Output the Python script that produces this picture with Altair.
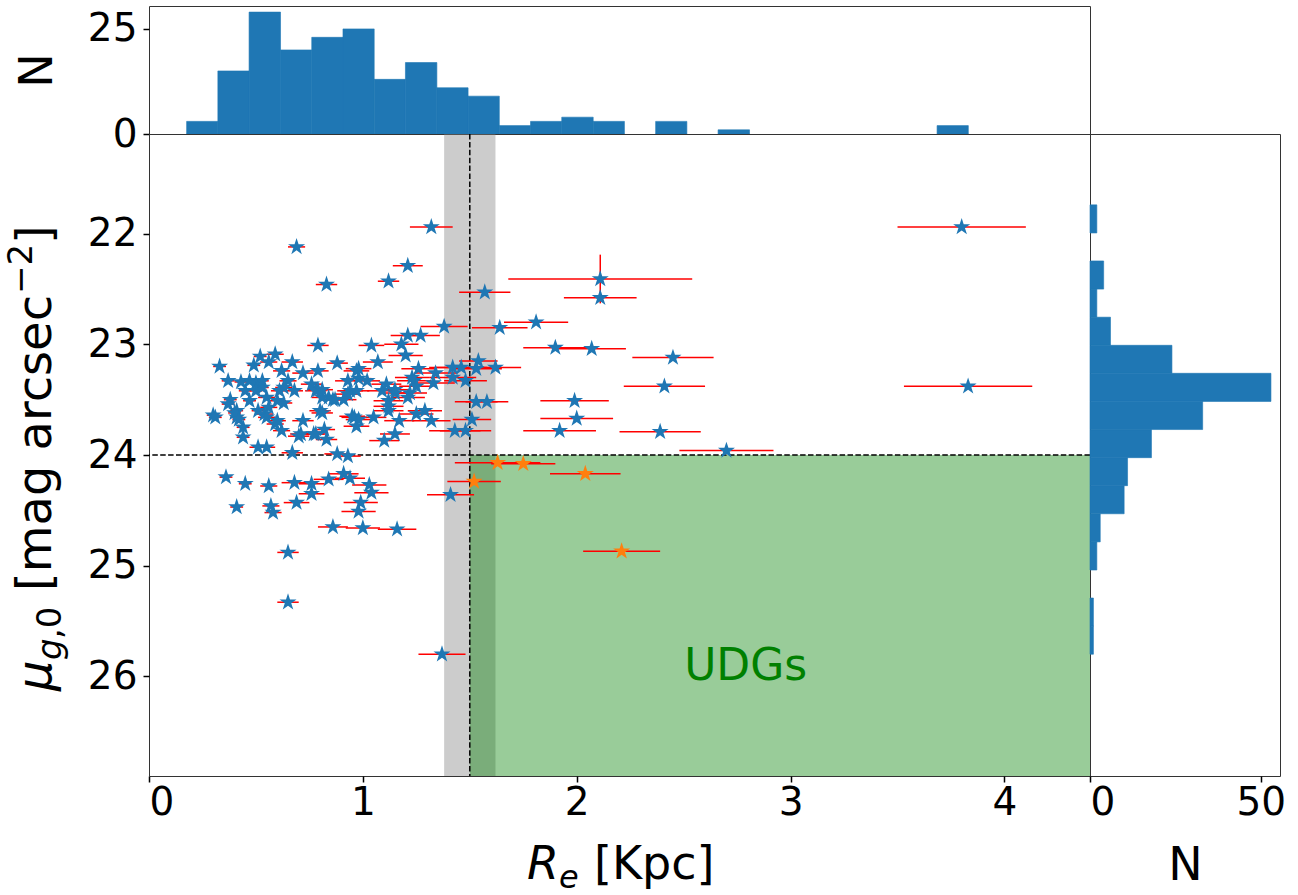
import altair as alt
import pandas as pd

# ---------------- data ----------------
# isolated points (upper / right part)
re_iso = [1.32, 0.69, 1.21, 1.12, 0.83, 2.11, 2.11, 1.57, 1.81, 1.64, 1.38, 1.90, 2.07, 2.45, 2.41, 1.99, 2.00, 1.92, 2.39, 2.70, 3.80, 3.83]
mu_iso = [21.94, 22.12, 22.29, 22.43, 22.46, 22.41, 22.58, 22.53, 22.80, 22.85, 22.84, 23.03, 23.04, 23.12, 23.38, 23.51, 23.67, 23.78, 23.79, 23.96, 21.94, 23.38]
er_iso = [0.10, 0.04, 0.07, 0.05, 0.05, 0.43, 0.17, 0.12, 0.15, 0.13, 0.11, 0.15, 0.16, 0.19, 0.19, 0.16, 0.17, 0.17, 0.19, 0.22, 0.30, 0.30]

# points near the grey band
re_band = [1.21, 1.27, 1.18, 1.20, 1.54, 1.62, 1.53, 1.46, 1.42, 1.26, 1.34, 1.42, 1.48, 1.33, 1.24, 1.23, 1.25, 1.53, 1.58, 1.51,
           1.43, 1.48, 1.32, 1.29, 1.25, 1.17, 1.15, 1.10, 1.21, 1.12, 1.09, 1.15, 1.07, 1.15, 1.11, 1.22, 1.12, 1.04, 1.12, 1.05]
mu_band = [22.92, 22.92, 23.00, 23.10, 23.15, 23.21, 23.22, 23.21, 23.21, 23.22, 23.26, 23.30, 23.33, 23.35, 23.33, 23.30, 23.38, 23.52, 23.52, 23.68,
           23.78, 23.78, 23.69, 23.60, 23.63, 23.69, 23.81, 23.87, 23.48, 23.51, 23.42, 23.44, 23.16, 23.41, 23.36, 23.44, 23.56, 23.01, 23.60, 23.66]
er_band = [0.08, 0.09, 0.08, 0.08, 0.09, 0.12, 0.12, 0.12, 0.11, 0.08, 0.10, 0.11, 0.10, 0.10, 0.08, 0.08, 0.08, 0.10, 0.10, 0.09,
           0.12, 0.12, 0.09, 0.08, 0.08, 0.07, 0.07, 0.07, 0.08, 0.07, 0.07, 0.07, 0.07, 0.07, 0.07, 0.08, 0.07, 0.06, 0.07, 0.06]

# middle of the cloud
re_mid = [1.02, 0.97, 0.98, 0.93, 0.94, 0.91, 0.87, 0.84, 0.81, 0.76, 0.79, 0.72, 0.67, 0.80, 0.72, 0.82, 0.78, 0.83, 0.70, 0.96,
          0.98, 0.97, 0.79, 0.79, 0.88, 0.98, 0.78, 0.81, 0.86, 0.93, 0.97, 0.81, 0.95, 0.71, 0.77, 0.88, 0.93]
mu_mid = [23.33, 23.24, 23.31, 23.33, 23.42, 23.50, 23.50, 23.48, 23.48, 23.36, 23.41, 23.26, 23.16, 23.60, 23.69, 23.77, 23.81, 23.86, 23.83, 23.66,
          23.68, 23.74, 23.24, 23.01, 23.17, 23.22, 23.42, 23.41, 23.50, 23.45, 23.42, 23.62, 23.65, 23.81, 23.81, 23.99, 24.01]
er_mid = [0.06, 0.06, 0.06, 0.06, 0.06, 0.06, 0.06, 0.05, 0.05, 0.05, 0.05, 0.05, 0.05, 0.05, 0.05, 0.05, 0.05, 0.05, 0.05, 0.06,
          0.06, 0.06, 0.05, 0.05, 0.05, 0.06, 0.05, 0.05, 0.05, 0.06, 0.06, 0.05, 0.06, 0.05, 0.05, 0.06, 0.06]

# left part of the cloud
re_left = [0.59, 0.62, 0.65, 0.61, 0.63, 0.33, 0.37, 0.43, 0.30, 0.31, 0.38, 0.37, 0.41, 0.41, 0.44, 0.44, 0.45, 0.49, 0.52, 0.56,
           0.47, 0.50, 0.53, 0.55, 0.47, 0.51, 0.54, 0.56, 0.60, 0.63, 0.68, 0.59, 0.62, 0.51, 0.55, 0.67, 0.53, 0.50, 0.55, 0.60, 0.40, 0.42]
mu_left = [23.09, 23.24, 23.33, 23.42, 23.53, 23.20, 23.33, 23.34, 23.64, 23.66, 23.50, 23.54, 23.60, 23.66, 23.75, 23.84, 23.42, 23.19, 23.11, 23.16,
           23.33, 23.35, 23.39, 23.48, 23.51, 23.60, 23.63, 23.57, 23.51, 23.39, 23.42, 23.72, 23.78, 23.93, 23.93, 23.98, 23.33, 23.42, 23.66, 23.69, 23.62, 23.68]
er_left = [0.04, 0.04, 0.04, 0.04, 0.04, 0.03, 0.03, 0.03, 0.03, 0.03, 0.03, 0.03, 0.03, 0.03, 0.03, 0.03, 0.03, 0.03, 0.03, 0.04,
           0.03, 0.03, 0.03, 0.04, 0.03, 0.03, 0.04, 0.04, 0.04, 0.04, 0.04, 0.04, 0.04, 0.04, 0.04, 0.05, 0.03, 0.03, 0.04, 0.04, 0.03, 0.03]

# below the surface-brightness cut
re_low = [0.36, 0.45, 0.56, 0.68, 0.76, 0.84, 0.91, 0.94, 1.03, 1.04, 0.76, 0.99, 0.98, 0.69, 0.57, 0.58, 0.41, 0.86, 1.00, 1.16, 0.65, 0.65, 1.41, 1.37]
mu_low = [24.20, 24.26, 24.28, 24.25, 24.26, 24.22, 24.17, 24.21, 24.27, 24.34, 24.35, 24.43, 24.51, 24.43, 24.46, 24.52, 24.47, 24.65, 24.66, 24.67, 24.88, 25.33, 24.36, 25.80]
er_low = [0.03, 0.03, 0.04, 0.06, 0.06, 0.07, 0.07, 0.07, 0.08, 0.08, 0.06, 0.08, 0.08, 0.06, 0.04, 0.04, 0.03, 0.07, 0.08, 0.09, 0.05, 0.05, 0.11, 0.11]

# UDG candidates (orange)
re_udg = [1.63, 1.75, 1.52, 2.04, 2.21]
mu_udg = [24.07, 24.08, 24.24, 24.17, 24.87]
er_udg = [0.20, 0.15, 0.125, 0.165, 0.18]

# the one vertical error bar
re_yerr = [2.11]
mu_yerr = [22.41]
yerr_val = [0.22]

# marginal histograms
top_edges = [0.176, 0.322, 0.468, 0.615, 0.761, 0.907, 1.053, 1.199, 1.346, 1.492, 1.638, 1.784, 1.930,
             2.077, 2.223, 2.369, 2.515, 2.661, 2.808, 2.954, 3.100, 3.246, 3.392, 3.539, 3.685, 3.831]
top_counts = [3, 15, 29, 20, 23, 25, 13, 17, 11, 9, 2, 3, 4, 3, 0, 3, 0, 1, 0, 0, 0, 0, 0, 0, 2]
right_edges = [21.740, 21.994, 22.247, 22.501, 22.755, 23.009, 23.262, 23.516, 23.770,
               24.024, 24.277, 24.531, 24.785, 25.039, 25.292, 25.546, 25.800]
right_counts = [2, 0, 4, 2, 6, 24, 53, 33, 18, 11, 10, 3, 2, 0, 1, 1]

# limits / cuts
re_range = [0.0, 4.4]
mu_range = [21.1, 26.9]
re_cut = 1.5
mu_cut = 24.0
band_range = [1.38, 1.62]
top_n_max = 30.45
right_n_max = 55.65

BLUE = "#1f77b4"
ORANGE = "#ff7f0e"
FONT = "DejaVu Sans"
STAR = ("M0,-1 L0.2245,-0.309 L0.951,-0.309 L0.363,0.118 L0.588,0.809 L0,0.382 "
        "L-0.588,0.809 L-0.363,0.118 L-0.951,-0.309 L-0.2245,-0.309 Z")

# ---------------- frames ----------------
blue_df = pd.DataFrame({
    "re": re_iso + re_band + re_mid + re_left + re_low,
    "mu": mu_iso + mu_band + mu_mid + mu_left + mu_low,
    "err": er_iso + er_band + er_mid + er_left + er_low,
})
udg_df = pd.DataFrame({"re": re_udg, "mu": mu_udg, "err": er_udg})
all_df = pd.concat([blue_df, udg_df], ignore_index=True)
yerr_df = pd.DataFrame({"re": re_yerr, "mu": mu_yerr, "e": yerr_val})
top_df = pd.DataFrame({"x0": top_edges[:-1], "x1": top_edges[1:], "n": top_counts})
right_df = pd.DataFrame({"y0": right_edges[:-1], "y1": right_edges[1:], "n": right_counts})

xs = alt.Scale(domain=re_range, nice=False, zero=False)
ys = alt.Scale(domain=mu_range, reverse=True, nice=False, zero=False)

x_axis = alt.Axis(values=[0, 1, 2, 3, 4], title=None, format="d", labelPadding=1)
y_axis = alt.Axis(values=[22, 23, 24, 25, 26], title=None, format="d", labelPadding=6)

X = alt.X("re:Q", scale=xs, axis=x_axis)
Y = alt.Y("mu:Q", scale=ys, axis=y_axis)

band = alt.Chart(pd.DataFrame({"a": [band_range[0]], "b": [band_range[1]],
                               "c": [mu_range[0]], "d": [mu_range[1]]})).mark_rect(
    color="grey", opacity=0.4).encode(
    x=alt.X("a:Q", scale=xs, axis=x_axis), x2="b:Q",
    y=alt.Y("c:Q", scale=ys, axis=y_axis), y2="d:Q")

udg_box = alt.Chart(pd.DataFrame({"a": [re_cut], "b": [re_range[1]],
                                  "c": [mu_cut], "d": [mu_range[1]]})).mark_rect(
    color="green", opacity=0.4).encode(
    x=alt.X("a:Q", scale=xs, axis=x_axis), x2="b:Q",
    y=alt.Y("c:Q", scale=ys, axis=y_axis), y2="d:Q")

vline = alt.Chart(pd.DataFrame({"re": [re_cut]})).mark_rule(
    color="black", strokeWidth=1.5, strokeDash=[5.5, 2.4]).encode(x=X)
hline = alt.Chart(pd.DataFrame({"mu": [mu_cut]})).mark_rule(
    color="black", strokeWidth=1.5, strokeDash=[5.5, 2.4]).encode(y=Y)

xerr = alt.Chart(all_df).transform_calculate(
    lo="datum.re - datum.err", hi="datum.re + datum.err").mark_rule(
    color="red", strokeWidth=1.5).encode(
    x=alt.X("lo:Q", scale=xs, axis=x_axis), x2="hi:Q", y=Y)

yerr = alt.Chart(yerr_df).transform_calculate(
    lo="datum.mu - datum.e", hi="datum.mu + datum.e").mark_rule(
    color="red", strokeWidth=1.5).encode(
    x=X, y=alt.Y("lo:Q", scale=ys, axis=y_axis), y2="hi:Q")

blue_pts = alt.Chart(blue_df).mark_point(
    shape=STAR, filled=True, size=320, color=BLUE, opacity=1, strokeWidth=0).encode(x=X, y=Y)
udg_pts = alt.Chart(udg_df).mark_point(
    shape=STAR, filled=True, size=320, color=ORANGE, opacity=1, strokeWidth=0).encode(x=X, y=Y)

udg_label = alt.Chart(pd.DataFrame({"re": [2.79], "mu": [26.03], "t": ["UDGs"]})).mark_text(
    fontSize=44, color="green", align="center", baseline="alphabetic", font=FONT).encode(
    x=X, y=Y, text="t:N")


def piece(text, px, py, size, italic=False, angle=0):
    kw = dict(fontSize=size, font=FONT, color="black", align="left", baseline="alphabetic",
              fontStyle="italic" if italic else "normal")
    if angle:
        kw["angle"] = angle
    return alt.Chart(pd.DataFrame({"t": [text]})).mark_text(**kw).encode(
        text="t:N", x=alt.value(px), y=alt.value(py))


# y-axis title: mu_{g,0} [mag arcsec^{-2}] (rotated, read upwards)
YB = -98
ytitle = [
    piece("μ", YB, 557, 48, italic=True, angle=270),
    piece("g", YB + 10, 526, 34, italic=True, angle=270),
    piece(",0", YB + 10, 505, 34, angle=270),
    piece("[mag arcsec", YB, 457, 48, angle=270),
    piece("−2", YB - 19, 160, 34, angle=270),
    piece("]", YB, 110, 48, angle=270),
]
# x-axis title: R_e [Kpc]
xtitle = [
    piece("R", 378, 745, 46, italic=True),
    piece("e", 410, 754, 32, italic=True),
    piece("[Kpc]", 445, 745, 46),
]

main = alt.layer(band, udg_box, vline, hline, xerr, yerr, blue_pts, udg_pts, udg_label,
                 *ytitle, *xtitle).properties(width=941, height=642)

top = alt.Chart(top_df).transform_filter("datum.n > 0").mark_rect(
    color=BLUE, stroke=BLUE, strokeWidth=0.6).encode(
    x=alt.X("x0:Q", scale=xs, axis=None), x2="x1:Q",
    y=alt.Y("n:Q", scale=alt.Scale(domain=[0, top_n_max], nice=False, zero=True),
            axis=alt.Axis(values=[0, 25], title="N", titleFontSize=46, titleAngle=270,
                          titleX=YB, titleY=64, titleAlign="center", titleBaseline="alphabetic",
                          labelPadding=6)),
    y2=alt.datum(0)).properties(width=941, height=128)

right = alt.Chart(right_df).transform_filter("datum.n > 0").mark_rect(
    color=BLUE, stroke=BLUE, strokeWidth=0.6).encode(
    y=alt.Y("y0:Q", scale=ys, axis=None), y2="y1:Q",
    x=alt.X("n:Q", scale=alt.Scale(domain=[0, right_n_max], nice=False, zero=True),
            axis=alt.Axis(values=[0, 50], title="N", titleFontSize=46, titleY=103,
                          titleBaseline="alphabetic", labelPadding=1)),
    x2=alt.datum(0)).properties(width=190, height=642)

chart = alt.vconcat(
    top,
    alt.hconcat(main, right, spacing=0, bounds="flush"),
    spacing=0, bounds="flush",
).properties(
    padding={"left": 4, "top": 5, "right": 0, "bottom": 0}
).configure(
    font=FONT
).configure_view(
    stroke="#333333", strokeWidth=1
).configure_axis(
    labelFont=FONT, labelFontSize=39, labelColor="black",
    titleFont=FONT, titleColor="black", titleFontWeight="normal",
    tickColor="black", tickSize=6, tickWidth=1.5,
    domain=False, grid=False,
)

chart.save("out.html", embed_options={"renderer": "svg", "actions": False})
